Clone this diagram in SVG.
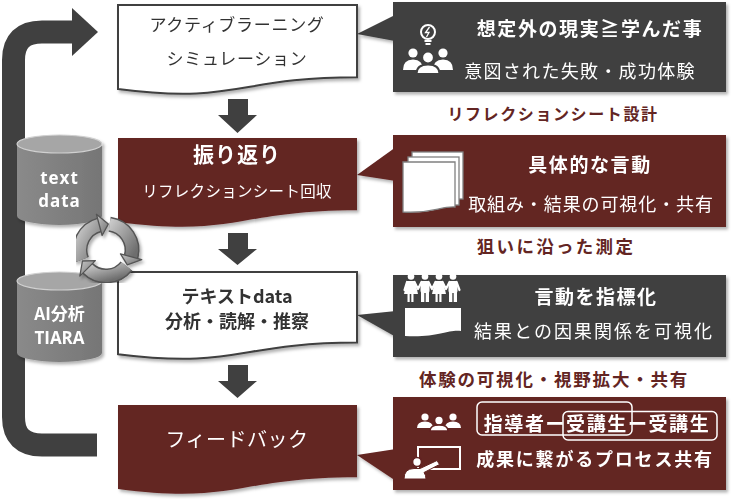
<svg xmlns="http://www.w3.org/2000/svg" width="733" height="499" viewBox="0 0 733 499">
<defs>
<style>
text{font-family:"Noto Sans CJK JP","Noto Sans",sans-serif;dominant-baseline:central;text-anchor:middle}
.wdoc{fill:#fff;stroke:#404040;stroke-width:2}
.rdoc{fill:#632523}
.gray{fill:#404040}
.red{fill:#632523}
.wt{fill:#fff}
.dt{fill:#333}
.lbl{fill:#632523;font-weight:bold}
.ic{fill:#fff}
.icl{fill:none;stroke:#fff;stroke-width:2}
.pg{fill:#fff;stroke:#808080;stroke-width:1.3}
.lat{font-family:"Open Sans","Noto Sans",sans-serif}
</style>
<filter id="sh" x="-5%" y="-5%" width="112%" height="115%">
<feDropShadow dx="2" dy="2.5" stdDeviation="1.5" flood-color="#000" flood-opacity="0.3"/>
</filter>
<linearGradient id="cyl" x1="0" y1="0" x2="1" y2="0">
<stop offset="0" stop-color="#8a8a8a"/><stop offset="0.5" stop-color="#808080"/><stop offset="1" stop-color="#767676"/>
</linearGradient>
<linearGradient id="ring" x1="0" y1="0" x2="1" y2="1">
<stop offset="0" stop-color="#c8c8c8"/><stop offset="1" stop-color="#6e6e6e"/>
</linearGradient>
</defs>

<!-- connectors -->
<g id="connectors">
<path d="M97,445 H42 Q13.5,445 13.5,417 V60 Q13.5,32 42,32 H74" fill="none" stroke="#404040" stroke-width="23"/>
<polygon points="72,8 98,32 72,56" fill="#404040"/>
<polygon points="228,99 248,99 248,115 257,115 237.5,133 218,115 228,115" fill="#404040"/>
<polygon points="228,233 248,233 248,249 257,249 237.5,265 218,249 228,249" fill="#404040"/>
<polygon points="228,365 248,365 248,381 257,381 237.5,398 218,381 228,381" fill="#404040"/>
</g>

<!-- right column callouts -->
<g id="note1" filter="url(#sh)">
<polygon class="gray" points="395,15 357,34 395,41"/>
<rect class="gray" x="393" y="2" width="333" height="90"/>
<circle cx="428" cy="32" r="7" class="icl" stroke-width="1.8"/>
<path d="M429.5,27 L425.5,32.5 H429 L426.5,37" fill="none" stroke="#fff" stroke-width="1.3"/>
<path d="M424.5,41 H431.5 M425.5,44 H430.5" stroke="#fff" stroke-width="1.8"/>
<circle cx="413" cy="53" r="4.6" class="ic"/>
<circle cx="443" cy="53" r="4.6" class="ic"/>
<path d="M403,70 Q403,59.5 413,59.5 Q423,59.5 423,70 Z" class="ic"/>
<path d="M433,70 Q433,59.5 443,59.5 Q453,59.5 453,70 Z" class="ic"/>
<circle cx="428" cy="57.5" r="5.8" class="ic" stroke="#404040" stroke-width="1.8"/>
<path d="M416.5,74 Q416.5,64.5 428,64.5 Q439.5,64.5 439.5,74 Z" class="ic" stroke="#404040" stroke-width="1.8"/>
<text x="590" y="27" class="wt" font-size="19" font-weight="bold" letter-spacing="1.6">想定外の現実≧学んだ事</text>
<text x="580" y="70" class="wt" font-size="18" letter-spacing="1.3">意図された失敗・成功体験</text>
</g>
<text x="553" y="113" class="lbl" font-size="16" letter-spacing="1.6">リフレクションシート設計</text>

<g id="note2" filter="url(#sh)">
<polygon class="red" points="396,147 357,175 396,181"/>
<rect class="red" x="393" y="135" width="333" height="92"/>
<rect class="pg" x="412" y="152" width="51" height="47"/>
<rect class="pg" x="408" y="157" width="51" height="48"/>
<path class="pg" d="M403,162 H455 V207 C440,206 432,214 403,212 Z"/>
<text x="590" y="163" class="wt" font-size="19" font-weight="bold" letter-spacing="1.6">具体的な言動</text>
<text x="591" y="203" class="wt" font-size="18" letter-spacing="0.9">取組み・結果の可視化・共有</text>
</g>
<text x="556" y="245" class="lbl" font-size="17.5" letter-spacing="2.3">狙いに沿った測定</text>

<g id="note3" filter="url(#sh)">
<polygon class="gray" points="396,311 357,315 396,337"/>
<rect class="gray" x="393" y="275" width="333" height="82"/>
<path d="M407,282 L404.5,290 M414.5,282 L418,289 L421.5,282 M428.5,282 L432,289 L435.5,282 M442.5,282 L446,289 L449.5,282 M456.5,282 L459.5,290" fill="none" stroke="#fff" stroke-width="2.2" stroke-linecap="round" stroke-linejoin="round"/>
<g class="ic">
<circle cx="411" cy="276.5" r="3.3"/><polygon points="407,281 415,281 418,294 404,294"/><rect x="407.5" y="293" width="2.2" height="9"/><rect x="411.3" y="293" width="2.2" height="9"/>
<circle cx="425" cy="276.5" r="3.3"/><rect x="420.5" y="281" width="9" height="12" rx="2"/><rect x="421" y="292" width="3.3" height="10"/><rect x="425.7" y="292" width="3.3" height="10"/>
<circle cx="439" cy="276.5" r="3.3"/><polygon points="435,281 443,281 446,294 432,294"/><rect x="435.5" y="293" width="2.2" height="9"/><rect x="439.3" y="293" width="2.2" height="9"/>
<circle cx="453" cy="276.5" r="3.3"/><rect x="448.5" y="281" width="9" height="12" rx="2"/><rect x="449" y="292" width="3.3" height="10"/><rect x="453.7" y="292" width="3.3" height="10"/>
<path d="M405,308 H461 V331 C449,329 437,338 405,336 Z"/>
</g>
<text x="596" y="295" class="wt" font-size="19" font-weight="bold" letter-spacing="1.5">言動を指標化</text>
<text x="594" y="330" class="wt" font-size="18" letter-spacing="2">結果との因果関係を可視化</text>
</g>
<text x="554" y="378" class="lbl" font-size="17.5" letter-spacing="1.8">体験の可視化・視野拡大・共有</text>

<g id="note4" filter="url(#sh)">
<polygon class="red" points="396,449 357,455 396,481"/>
<rect class="red" x="393" y="397" width="333" height="93"/>
<circle cx="425" cy="417" r="3.6" class="ic"/>
<circle cx="453" cy="417" r="3.6" class="ic"/>
<path d="M417,428 Q417,421.5 425,421.5 Q433,421.5 433,428 Z" class="ic"/>
<path d="M445,428 Q445,421.5 453,421.5 Q461,421.5 461,428 Z" class="ic"/>
<circle cx="439" cy="420.5" r="4.4" class="ic" stroke="#632523" stroke-width="1.5"/>
<path d="M430,431 Q430,425 439,425 Q448,425 448,431 Z" class="ic" stroke="#632523" stroke-width="1.5"/>
<rect x="418" y="447" width="42" height="22" class="icl" stroke-width="2.2"/>
<circle cx="417" cy="462" r="4.4" class="ic" stroke="#632523" stroke-width="1.5"/>
<path d="M404,479 Q404,468.5 414,468.5 L420,468.5 L437,460.5 L439.5,464.5 L424,472.5 Q426,475 426,479 Z" class="ic" stroke="#632523" stroke-width="1"/>
<rect x="477" y="402" width="155" height="33" rx="5" fill="none" stroke="#fff" stroke-width="1.5"/>
<rect x="563" y="411.5" width="154" height="28.5" rx="5" fill="none" stroke="#fff" stroke-width="1.5"/>
<text x="597" y="422" class="wt" font-size="19" font-weight="bold" letter-spacing="1.6">指導者ー受講生ー受講生</text>
<text x="595" y="458" class="wt" font-size="18" font-weight="bold" letter-spacing="1.8">成果に繋がるプロセス共有</text>
</g>

<!-- left column -->
<g id="step1" filter="url(#sh)">
<path class="wdoc" d="M118,5 H357 V77.2 C237.5,77.2 237.5,104.6 118,89.1 Z"/>
<text x="237" y="23" class="dt" font-size="17" letter-spacing="0.7">アクティブラーニング</text>
<text x="237" y="57" class="dt" font-size="17" letter-spacing="0.7">シミュレーション</text>
</g>
<g id="step2" filter="url(#sh)">
<path class="rdoc" d="M118,138 H357 V210.2 C237.5,210.2 237.5,237.6 118,222.1 Z"/>
<text x="237" y="153" class="wt" font-size="21" font-weight="bold" letter-spacing="1">振り返り</text>
<text x="237" y="190" class="wt" font-size="15.5" letter-spacing="0.3">リフレクションシート回収</text>
</g>
<g id="step3" filter="url(#sh)">
<path class="wdoc" d="M118,272 H357 V342.6 C237.5,342.6 237.5,369.4 118,354.2 Z"/>
<text x="237" y="295" class="dt" font-size="18" font-weight="bold">テキストdata</text>
<text x="237" y="320" class="dt" font-size="18" font-weight="bold">分析・読解・推察</text>
</g>
<g id="step4" filter="url(#sh)">
<path class="rdoc" d="M118,405 H357 V477.2 C237.5,477.2 237.5,504.6 118,489.1 Z"/>
<text x="237" y="438" class="wt" font-size="20" letter-spacing="0.5">フィードバック</text>
</g>

<!-- data cylinders -->
<g id="cyl1" filter="url(#sh)">
<path d="M17,144 V216 A42.5,9 0 0 0 102,216 V144 Z" fill="url(#cyl)"/>
<ellipse cx="59.5" cy="144" rx="42.5" ry="9" fill="#a6a6a6" stroke="#d0d0d0" stroke-width="1.2"/>
<text x="59.5" y="177" class="wt lat" font-size="17" font-weight="bold" letter-spacing="1">text</text>
<text x="59.5" y="200" class="wt lat" font-size="17" font-weight="bold" letter-spacing="1">data</text>
</g>
<g id="cyl2" filter="url(#sh)">
<path d="M17,281 V353 A42.5,9 0 0 0 102,353 V281 Z" fill="url(#cyl)"/>
<ellipse cx="59.5" cy="281" rx="42.5" ry="9" fill="#a6a6a6" stroke="#d0d0d0" stroke-width="1.2"/>
<text x="59.5" y="312" class="wt" font-size="17" font-weight="bold">AI分析</text>
<text x="59.5" y="337" class="wt lat" font-size="17" font-weight="bold">TIARA</text>
</g>

<!-- cycle icon -->
<g id="cycle" filter="url(#sh)">
<g fill="none" stroke="#555" stroke-width="15">
<path d="M109.62,224.25 A26,26 0 0 1 131.11,256.73"/>
<path d="M126.49,266.01 A26,26 0 0 1 87.62,268.38"/>
<path d="M81.89,259.74 A26,26 0 0 1 99.27,224.89"/>
</g>
<g fill="none" stroke="url(#ring)" stroke-width="12">
<path d="M109.62,224.25 A26,26 0 0 1 131.11,256.73"/>
<path d="M126.49,266.01 A26,26 0 0 1 87.62,268.38"/>
<path d="M81.89,259.74 A26,26 0 0 1 99.27,224.89"/>
</g>
<g fill="url(#ring)" stroke="#555" stroke-width="1.3" stroke-linejoin="round">
<polygon points="120.49,253.88 141.74,259.58 127.30,264.91"/>
<polygon points="95.39,260.61 79.84,276.16 82.44,260.99"/>
<polygon points="102.12,235.51 96.42,214.26 108.27,224.10"/>
</g>
</g>
</svg>
